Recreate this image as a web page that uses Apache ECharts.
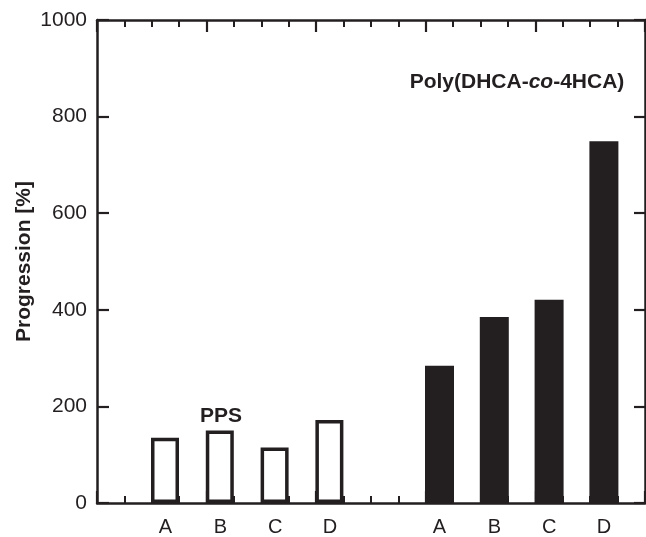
<!DOCTYPE html>
<html>
<head>
<meta charset="utf-8">
<script src="https://cdn.jsdelivr.net/npm/echarts@6/dist/echarts.min.js"></script>
<style>
html,body{margin:0;padding:0;background:#fff;}
#chart{width:646px;height:537px;}
</style>
</head>
<body>
<div id="chart"></div>
<script>
// ---- data ----
var groupLabels = ['A', 'B', 'C', 'D'];
var ppsValues = [135, 150, 115, 172];
var polyValues = [284, 385, 421, 749];
var yTicks = [0, 200, 400, 600, 800, 1000];
var ppsName = 'PPS';
var polyName = 'Poly(DHCA-co-4HCA)';
var yAxisTitle = 'Progression [%]';

// slots on a 20-slot category axis (group 1 at 2,4,6,8; group 2 at 12,14,16,18)
var ppsSlots = [2, 4, 6, 8];
var polySlots = [12, 14, 16, 18];
var nSlots = 20;

var slotIds = [], slotLabel = {}, ppsData = [], polyData = [];
for (var i = 0; i < nSlots; i++) { slotIds.push('s' + i); ppsData.push('-'); polyData.push('-'); }
ppsSlots.forEach(function (s, k) { slotLabel['s' + s] = groupLabels[k]; ppsData[s] = ppsValues[k]; });
polySlots.forEach(function (s, k) { slotLabel['s' + s] = groupLabels[k]; polyData[s] = polyValues[k]; });

var ink = '#231f20';
var font = 'Liberation Sans, Arial, Helvetica, sans-serif';
var lineW = 2.5;

var chart = echarts.init(document.getElementById('chart'), null, {renderer: 'canvas'});
var frameAxis = function (pos) {
  return {
    type: 'value', min: 0, max: 20, interval: 4, position: pos,
    axisLine: {show: true, onZero: false, lineStyle: {color: ink, width: lineW}},
    axisTick: {show: true, inside: true, length: 12, lineStyle: {color: ink, width: 2.2}},
    minorTick: {show: true, splitNumber: 4, length: 7, lineStyle: {color: ink, width: 2}},
    axisLabel: {show: false}, splitLine: {show: false}, minorSplitLine: {show: false}
  };
};
chart.setOption({
  animation: false,
  backgroundColor: '#fff',
  grid: {left: 97, right: 1, top: 20, bottom: 29, containLabel: false},
  title: [
    {text: ppsName, left: 221, top: 406, textAlign: 'center', padding: 0,
     textStyle: {fontFamily: font, fontSize: 21, fontWeight: 'bold', color: ink}},
    {text: '{b|Poly(DHCA-}{i|co}{b|-4HCA)}', left: 517, top: 72, textAlign: 'center', padding: 0,
     textStyle: {fontFamily: font, fontSize: 21, fontWeight: 'bold', color: ink,
       rich: {
         b: {fontFamily: font, fontSize: 21, fontWeight: 'bold', color: ink},
         i: {fontFamily: font, fontSize: 21, fontWeight: 'bold', fontStyle: 'italic', color: ink}
       }}}
  ],
  xAxis: [
    frameAxis('bottom'),
    frameAxis('top'),
    {
      type: 'category', data: slotIds, position: 'bottom', boundaryGap: true,
      axisLine: {show: false}, axisTick: {show: false}, splitLine: {show: false},
      axisLabel: {show: true, interval: 0, margin: 14, color: ink, fontFamily: font, fontSize: 20,
        formatter: function (v) { return slotLabel[v] || ''; }}
    }
  ],
  yAxis: [
    {
      type: 'value', min: 0, max: 1000, interval: 200, position: 'left',
      name: yAxisTitle, nameLocation: 'middle', nameGap: 62, nameRotate: 90,
      nameMoveOverlap: false,
      nameTextStyle: {fontFamily: font, fontSize: 21, fontWeight: 'bold', color: ink},
      axisLine: {show: true, onZero: false, lineStyle: {color: ink, width: lineW}},
      axisTick: {show: true, inside: true, length: 12, lineStyle: {color: ink, width: 2.2}},
      axisLabel: {show: true, margin: 10, color: ink, fontFamily: font, fontSize: 21,
        formatter: function (v) { return String(v); }},
      splitLine: {show: false}
    },
    {
      type: 'value', min: 0, max: 1000, interval: 200, position: 'right',
      axisLine: {show: true, onZero: false, lineStyle: {color: ink, width: lineW}},
      axisTick: {show: true, inside: true, length: 11, lineStyle: {color: ink, width: 2.2}},
      axisLabel: {show: false}, splitLine: {show: false}
    }
  ],
  series: [
    {
      name: ppsName, type: 'bar', xAxisIndex: 2, yAxisIndex: 0, data: ppsData,
      barWidth: 28, barGap: '-100%', z: 3,
      itemStyle: {color: '#fff', borderColor: ink, borderWidth: 3.5}
    },
    {
      name: polyName, type: 'bar', xAxisIndex: 2, yAxisIndex: 0, data: polyData,
      barWidth: 29, barGap: '-100%', z: 3,
      itemStyle: {color: ink, borderWidth: 0}
    }
  ]
});
</script>
</body>
</html>
